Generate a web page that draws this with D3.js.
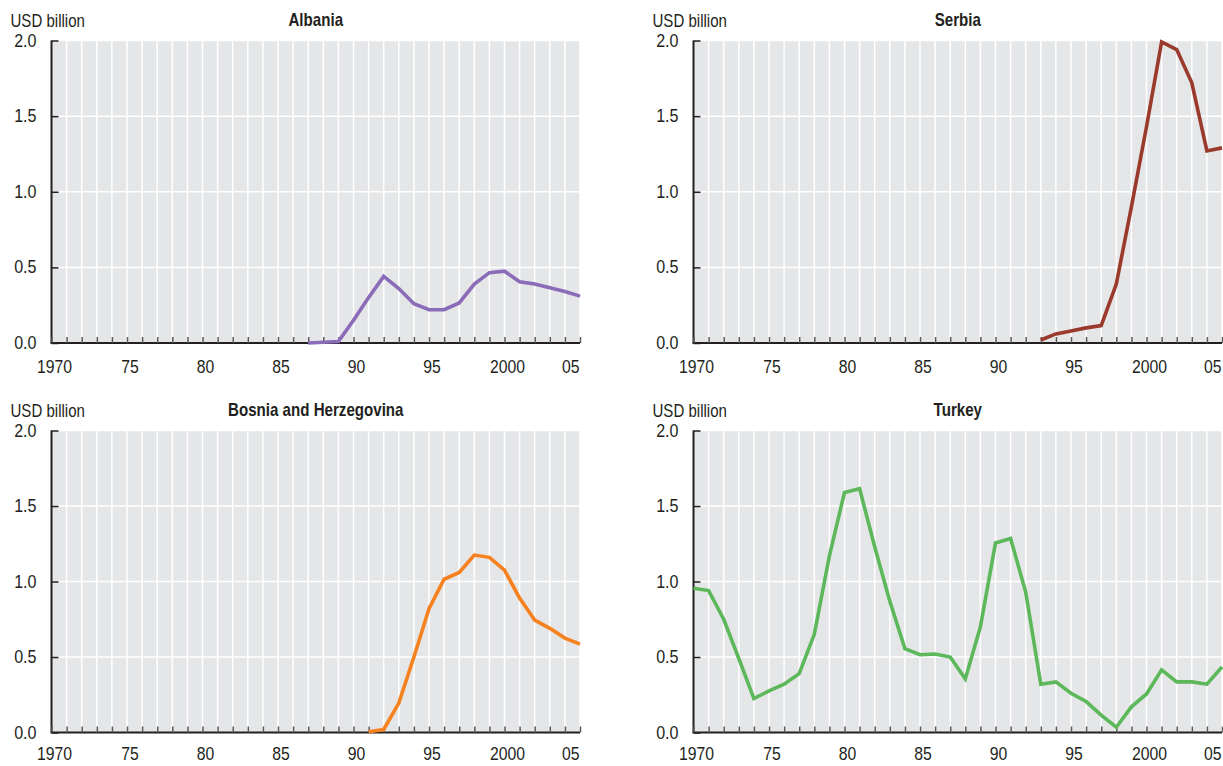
<!DOCTYPE html>
<html>
<head>
<meta charset="utf-8">
<script src="https://cdn.jsdelivr.net/npm/d3@7"></script>
<style>
  html, body { margin: 0; padding: 0; background: #fff; }
  svg { display: block; font-family: "Liberation Sans", Arial, sans-serif; }
</style>
</head>
<body>
<svg id="chart" width="1223" height="766"></svg>
<script>
// Years covered by every panel
const years = d3.range(1970, 2006);

// Net flows, USD billion (null = no data for that year)
const albania = [null,null,null,null,null,null,null,null,null,null,
  null,null,null,null,null,null,null,0.0,0.005,0.01,
  0.15,0.30,0.44,0.36,0.26,0.22,0.22,0.265,0.39,0.465,
  0.475,0.405,0.39,0.365,0.34,0.31];
const serbia = [null,null,null,null,null,null,null,null,null,null,
  null,null,null,null,null,null,null,null,null,null,
  null,null,null,0.02,0.06,0.08,0.10,0.115,0.39,0.90,
  1.43,1.99,1.94,1.72,1.27,1.29];
const bosnia = [null,null,null,null,null,null,null,null,null,null,
  null,null,null,null,null,null,null,null,null,null,
  null,0.005,0.02,0.195,0.50,0.82,1.015,1.06,1.175,1.16,
  1.075,0.89,0.745,0.69,0.625,0.585];
const turkey = [0.955,0.94,0.75,0.49,0.225,0.275,0.32,0.39,0.65,1.17,
  1.59,1.615,1.23,0.87,0.555,0.515,0.52,0.50,0.355,0.70,
  1.255,1.285,0.93,0.32,0.335,0.26,0.205,0.115,0.035,0.17,
  0.255,0.415,0.335,0.335,0.32,0.435];

const countries = ["Albania", "Serbia", "Bosnia and Herzegovina", "Turkey"];
const seriesList = [albania, serbia, bosnia, turkey];
const colors = ["#8b6cb8", "#9a3a2c", "#f5821f", "#5cb85a"];

const yTicks = [0, 0.5, 1.0, 1.5, 2.0];
const xTickLabels = {1970: "1970", 1975: "75", 1980: "80", 1985: "85", 1990: "90", 1995: "95", 2000: "2000", 2005: "05"};
const unitLabel = "USD billion";

// Panel frames (plot area) in pixels; labelDy = baseline offset of year labels
const panels = [
  {x0: 51.5, y0: 40.5, y1: 343, labelDy: 30},
  {x0: 693.5, y0: 40.5, y1: 343, labelDy: 30},
  {x0: 51.5, y0: 430.5, y1: 732.5, labelDy: 27.5},
  {x0: 693.5, y0: 430.5, y1: 732.5, labelDy: 27.5}
];
const yearStep = 15.1;

const svg = d3.select("#chart");

// Condensed-looking text: horizontally squeezed Liberation Sans
function label(g, x, y, txt, opts = {}) {
  const squeeze = opts.squeeze || 0.88;
  return g.append("text")
    .attr("transform", `translate(${x},${y}) scale(${squeeze},1)`)
    .attr("text-anchor", opts.anchor || "start")
    .attr("font-size", opts.size || 17.5)
    .attr("font-weight", opts.weight || "normal")
    .attr("fill", "#231f20")
    .text(txt);
}

panels.forEach((p, i) => {
  const x = d3.scaleLinear().domain([1970, 2005]).range([p.x0, p.x0 + 35 * yearStep]);
  const y = d3.scaleLinear().domain([0, 2]).range([p.y1, p.y0]);
  const g = svg.append("g");
  const xEnd = x(2005);

  // plot background
  g.append("rect")
    .attr("x", p.x0).attr("y", p.y0)
    .attr("width", xEnd - p.x0).attr("height", p.y1 - p.y0)
    .attr("fill", "#e5e6e8");

  // vertical gridlines, one per year
  g.selectAll("line.vg").data(years.slice(1)).join("line")
    .attr("x1", d => x(d)).attr("x2", d => x(d))
    .attr("y1", p.y0).attr("y2", p.y1)
    .attr("stroke", "#fff").attr("stroke-width", 1.5);

  // horizontal gridlines
  g.selectAll("line.hg").data(yTicks.slice(1)).join("line")
    .attr("x1", p.x0).attr("x2", xEnd)
    .attr("y1", d => y(d)).attr("y2", d => y(d))
    .attr("stroke", "#fff").attr("stroke-width", 1.5);

  // y axis with inward ticks
  const yAxis = d3.axisRight(y).tickValues(yTicks).tickSize(7).tickFormat("");
  const ya = g.append("g").attr("transform", `translate(${p.x0},0)`).call(yAxis);
  ya.select(".domain").attr("stroke", "#231f20").attr("stroke-width", 2).attr("d", `M0,${p.y0}V${p.y1}`);
  ya.selectAll(".tick line").attr("stroke", "#231f20").attr("stroke-width", 1.5);

  yTicks.forEach(t => label(g, p.x0 - 15, y(t) + 6, d3.format(".1f")(t), {anchor: "end", squeeze: 0.92}));

  // x axis with inward ticks
  const xAxis = d3.axisTop(x).tickValues(years).tickSize(6).tickFormat("");
  const xa = g.append("g").attr("transform", `translate(0,${p.y1})`).call(xAxis);
  xa.select(".domain").attr("stroke", "#231f20").attr("stroke-width", 2).attr("d", `M${p.x0 - 1},0H${xEnd}`);
  xa.selectAll(".tick line").attr("stroke", "#58595b").attr("stroke-width", 1.5);

  Object.keys(xTickLabels).map(Number).forEach(yr => {
    const last = yr === 2005;
    label(g, last ? xEnd - 0.5 : x(yr) + 3, p.y1 + p.labelDy, xTickLabels[yr],
      {anchor: last ? "end" : "middle", squeeze: 0.9});
  });

  // unit label and panel title
  label(g, p.x0 - 41, p.y0 - 14, unitLabel, {squeeze: 0.86});
  label(g, (p.x0 + xEnd) / 2, p.y0 - 15, countries[i], {anchor: "middle", weight: "bold", size: 18, squeeze: 0.84});

  // data line
  const line = d3.line()
    .defined(d => d.v !== null)
    .x(d => x(d.year)).y(d => y(d.v));
  g.append("path")
    .datum(years.map((yr, k) => ({year: yr, v: seriesList[i][k]})))
    .attr("d", line)
    .attr("fill", "none")
    .attr("stroke", colors[i])
    .attr("stroke-width", 3.6)
    .attr("stroke-linejoin", "miter");
});
</script>
</body>
</html>
